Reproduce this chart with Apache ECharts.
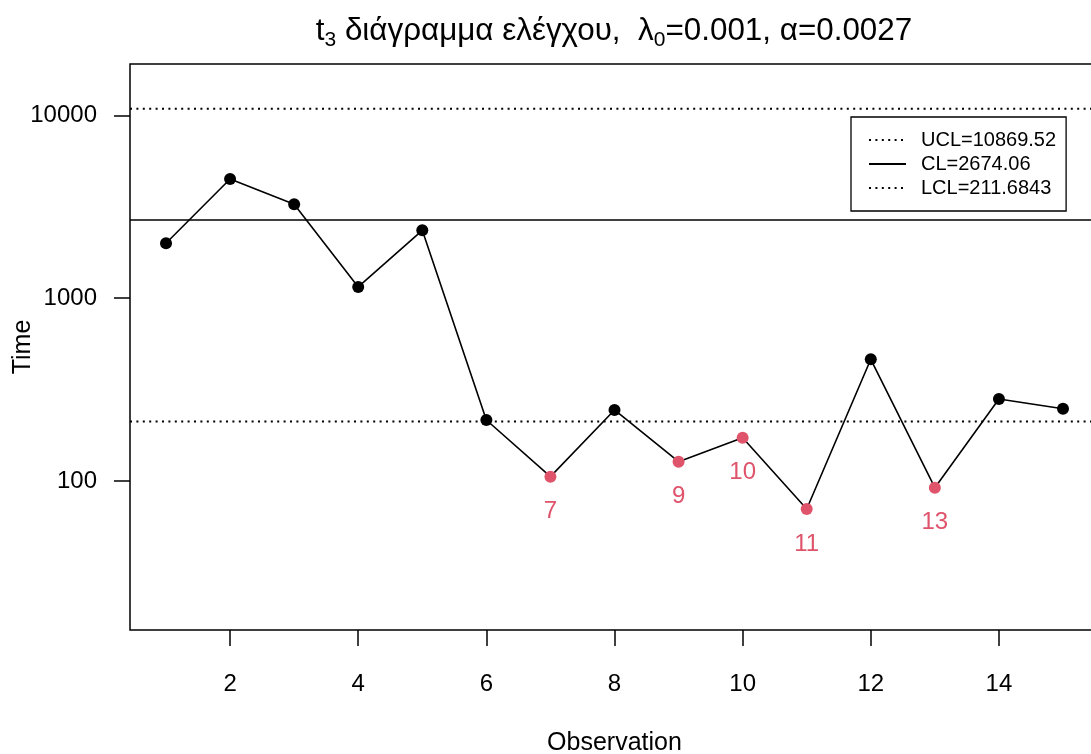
<!DOCTYPE html>
<html>
<head>
<meta charset="utf-8">
<script src="https://cdn.jsdelivr.net/npm/echarts@6/dist/echarts.min.js"></script>
<style>
html,body{margin:0;padding:0;background:#fff;}
#chart{width:1091px;height:754px;}
</style>
</head>
<body>
<div id="chart"></div>
<script>
// ---- data ----
const observations = [1,2,3,4,5,6,7,8,9,10,11,12,13,14,15];
const times = [1995, 4483, 3262, 1151, 2350, 215.6, 105.6, 244.5, 127.5, 172.5, 70.3, 463, 91.9, 280.9, 248.6];
const UCL = 10869.52;
const CL = 2674.06;
const LCL = 211.6843;
const xTicks = [2,4,6,8,10,12,14];
const yTicks = [100,1000,10000];
const X_MIN = 0.438, X_MAX = 15.562;
const Y_MIN = 15.31, Y_MAX = 19080;
const legendNames = ['UCL=10869.52','CL=2674.06','LCL=211.6843'];

const FONT = "'Liberation Sans', Arial, Helvetica, sans-serif";
const RED = '#DF536B';

const chart = echarts.init(document.getElementById('chart'), null, {renderer:'canvas'});

const mainData = observations.map((x,i) => {
  const out = times[i] < LCL;
  return {
    value: [x, times[i]],
    itemStyle: {color: out ? RED : '#000'},
    label: out ? {show:true, formatter: String(x)} : {show:false}
  };
});

function ctrlSeries(name, val, type){
  return {
    name: name, type:'line', data: [[X_MIN,val],[X_MAX,val]],
    symbol:'none', silent:true, animation:false,
    itemStyle:{color:'#000'},
    lineStyle:{color:'#000', width: type==='solid'?1.6:2, type: type==='solid'?'solid':[2,4.4]},
    z: 1
  };
}

const option = {
  backgroundColor:'#fff',
  animation:false,
  textStyle:{fontFamily:FONT},
  title:{
    left: 609, top: 6, textAlign:'center',
    text:'{m|t}{s|3}{m| διάγραμμα ελέγχου,  λ}{s|0}{m|=0.001, α=0.0027}',
    textStyle:{
      fontFamily:FONT, fontWeight:'normal', color:'#000',
      rich:{
        m:{fontFamily:FONT, fontSize:31.4, lineHeight:40, color:'#000'},
        s:{fontFamily:FONT, fontSize:21, lineHeight:23, verticalAlign:'bottom', color:'#000'}
      }
    }
  },
  legend:{
    data: legendNames,
    orient:'vertical', left:851, top:117,
    padding:[13,10,13,17],
    borderColor:'#000', borderWidth:1.3, borderRadius:0,
    itemWidth:37, itemHeight:14, itemGap:4,
    itemStyle:{opacity:0},
    textStyle:{fontFamily:FONT, fontSize:20, color:'#000', padding:[0,0,0,10]},
    selectedMode:false
  },
  grid:{left:130, top:64, right:-8, bottom:124, containLabel:false, outerBoundsMode:'none',
        show:true, borderColor:'#000', borderWidth:1.5, backgroundColor:'transparent'},
  xAxis:{
    type:'value', min:X_MIN, max:X_MAX,
    name:'Observation', nameLocation:'middle', nameGap:101, nameMoveOverlap:false,
    nameTextStyle:{fontFamily:FONT, fontSize:25, color:'#000'},
    axisLine:{show:false, onZero:false},
    splitLine:{show:false},
    axisTick:{show:true, length:16, lineStyle:{color:'#000', width:1.5}, customValues:xTicks},
    axisLabel:{fontFamily:FONT, fontSize:24, color:'#000', margin:42, customValues:xTicks}
  },
  yAxis:{
    type:'log', logBase:10, min:Y_MIN, max:Y_MAX,
    name:'Time', nameLocation:'middle', nameGap:94, nameMoveOverlap:false,
    nameTextStyle:{fontFamily:FONT, fontSize:25, color:'#000'},
    axisLine:{show:false, onZero:false},
    splitLine:{show:false},
    axisTick:{show:true, length:16, lineStyle:{color:'#000', width:1.5}, customValues:yTicks},
    axisLabel:{fontFamily:FONT, fontSize:24, color:'#000', margin:33, customValues:yTicks,
               formatter: v => String(Math.round(v))}
  },
  series:[
    ctrlSeries(legendNames[0], UCL, 'dotted'),
    ctrlSeries(legendNames[1], CL, 'solid'),
    ctrlSeries(legendNames[2], LCL, 'dotted'),
    {
      name:'Time', type:'line', data: mainData,
      symbol:'circle', symbolSize:12, showAllSymbol:true,
      lineStyle:{color:'#000', width:1.6},
      label:{position:'bottom', distance:17, fontFamily:FONT, fontSize:24, color:RED},
      z: 3
    }
  ]
};
chart.setOption(option);
</script>
</body>
</html>
